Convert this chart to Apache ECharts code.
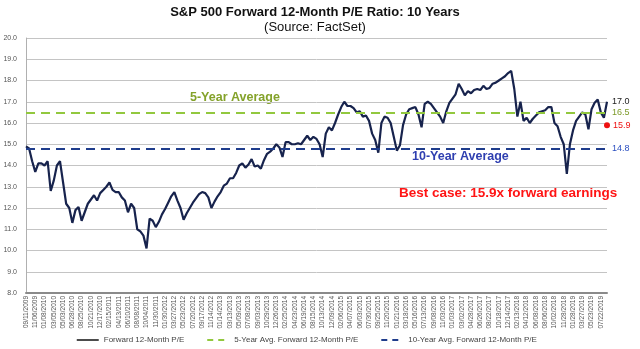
<!DOCTYPE html>
<html>
<head>
<meta charset="utf-8">
<script src="https://cdn.jsdelivr.net/npm/echarts@6/dist/echarts.min.js"></script>
<style>
html,body{margin:0;padding:0;background:#fff;}
#c{width:640px;height:349px;}
</style>
</head>
<body>
<div id="c"></div>
<script>
// Tick labels (every 40 trading days)
const tickLabels = ['09/11/2009','11/06/2009','01/08/2010','03/05/2010','05/03/2010','06/28/2010','08/25/2010','10/21/2010','12/17/2010','02/15/2011','04/13/2011','06/10/2011','08/08/2011','10/04/2011','11/30/2011','01/30/2012','03/27/2012','05/23/2012','07/20/2012','09/17/2012','11/14/2012','01/14/2013','03/13/2013','05/09/2013','07/08/2013','09/03/2013','10/29/2013','12/26/2013','02/25/2014','04/23/2014','06/19/2014','08/15/2014','10/13/2014','12/09/2014','02/06/2015','04/07/2015','06/03/2015','07/30/2015','09/25/2015','11/20/2015','01/21/2016','03/18/2016','05/16/2016','07/13/2016','09/08/2016','11/03/2016','01/03/2017','03/02/2017','04/28/2017','06/26/2017','08/22/2017','10/18/2017','12/14/2017','02/13/2018','04/12/2018','06/08/2018','08/06/2018','10/02/2018','11/28/2018','01/28/2019','03/27/2019','05/23/2019','07/22/2019'];

// Forward 12-month P/E (3 readings per tick interval)
const forwardPE = [
14.9,14.8,14.2,13.7,14.1,14.1,14.0,14.2,12.8,13.3,
14.0,14.2,13.2,12.2,12.0,11.3,11.9,12.05,11.4,11.8,
12.2,12.4,12.6,12.35,12.7,12.85,13.0,13.2,12.85,12.75,
12.75,12.5,12.35,11.8,12.2,12.0,11.0,10.9,10.7,10.1,
11.5,11.4,11.1,11.35,11.7,11.95,12.25,12.55,12.75,12.35,
12.0,11.45,11.75,12.0,12.25,12.45,12.65,12.75,12.7,12.5,
12.0,12.3,12.55,12.75,13.05,13.15,13.4,13.4,13.65,14.0,
14.1,13.9,14.05,14.3,13.95,14.0,13.85,14.25,14.55,14.65,
14.8,15.0,14.85,14.4,15.1,15.1,15.0,15.0,15.05,15.0,
15.2,15.4,15.2,15.35,15.25,15.0,14.4,15.5,15.8,15.65,
16.0,16.4,16.75,17.0,16.8,16.8,16.7,16.5,16.55,16.3,
16.35,16.1,15.5,15.2,14.6,16.0,16.3,16.25,16.0,15.35,
14.7,14.95,15.9,16.4,16.65,16.7,16.75,16.4,15.8,16.9,
17.0,16.9,16.7,16.5,16.3,16.0,16.55,16.95,17.15,17.35,
17.85,17.6,17.3,17.5,17.4,17.55,17.6,17.55,17.75,17.6,
17.65,17.85,17.9,18.0,18.1,18.2,18.35,18.45,17.6,16.3,
17.0,16.1,16.25,16.0,16.2,16.35,16.5,16.55,16.6,16.75,
16.75,16.0,15.85,15.35,15.0,13.6,15.0,15.65,16.1,16.3,
16.5,16.4,15.7,16.65,16.95,17.1,16.5,16.25,17.0
];

const fiveYearAvg = 16.5;
const tenYearAvg = 14.8;
const bestCase = 15.9;
const seriesNames = ['Forward 12-Month P/E','5-Year Avg. Forward 12-Month P/E','10-Year Avg. Forward 12-Month P/E'];

// category axis: each tick label followed by two unlabeled readings
const categories = [];
tickLabels.forEach(function(l){ categories.push(l, '', ''); });
while (categories.length > forwardPE.length) categories.pop();

const FONT = '"Liberation Sans", Arial, sans-serif';
const chart = echarts.init(document.getElementById('c'), null, {renderer:'canvas'});
chart.setOption({
  animation: false,
  backgroundColor: '#fff',
  textStyle: {fontFamily: FONT},
  title: {
    text: 'S&P 500 Forward 12-Month P/E Ratio: 10 Years',
    subtext: '(Source: FactSet)',
    left: 310, top: 1, textAlign: 'center', itemGap: 2,
    textStyle: {fontSize: 13, fontWeight: 'bold', color: '#111', fontFamily: FONT},
    subtextStyle: {fontSize: 13, color: '#111', fontFamily: FONT}
  },
  grid: {left: 26, right: 33, top: 38, bottom: 56, containLabel: false},
  legend: {
    left: 76, top: 336, padding: 0, itemGap: 22, itemWidth: 22, itemHeight: 10,
    itemStyle: {opacity: 0},
    data: [
      {name: seriesNames[0], lineStyle: {color: '#111', width: 1.5, type: 'solid'}},
      {name: seriesNames[1], lineStyle: {color: '#92c83e', width: 2, type: [6, 5]}},
      {name: seriesNames[2], lineStyle: {color: '#1f3d8c', width: 2, type: [6, 5]}}
    ],
    textStyle: {fontSize: 8, color: '#444', fontFamily: FONT}
  },
  xAxis: {
    type: 'category', boundaryGap: false, data: categories,
    axisLine: {lineStyle: {color: '#8a8a8a', width: 2}},
    axisTick: {show: false},
    axisLabel: {interval: 2, rotate: 90, fontSize: 6.5, color: '#555', margin: 3, fontFamily: FONT},
    splitLine: {show: false}
  },
  yAxis: {
    type: 'value', min: 8, max: 20, interval: 1,
    axisLine: {show: true, lineStyle: {color: '#b0b0b0', width: 1}},
    axisTick: {show: false},
    axisLabel: {fontSize: 7, color: '#555', margin: 9, formatter: function(v){return v.toFixed(1);}, fontFamily: FONT},
    splitLine: {lineStyle: {color: '#c4c4c4', width: 1}}
  },
  series: [
    {
      name: seriesNames[0], type: 'line', data: forwardPE, symbol: 'none', showSymbol: false, sampling: 'none',
      color: '#17234d',
      lineStyle: {color: '#17234d', width: 2.2},
      endLabel: {show: true, formatter: '17.0', color: '#222', fontSize: 9, distance: 5, fontFamily: FONT},
      markPoint: {
        silent: true,
        data: [{coord: [forwardPE.length - 1, bestCase], symbol: 'circle', symbolSize: 6,
          itemStyle: {color: '#ee1111'},
          label: {show: true, position: 'right', distance: 3, formatter: String(bestCase), color: '#ee1111', fontSize: 9, fontFamily: FONT}}]
      },
      z: 3
    },
    {
      name: seriesNames[1], type: 'line', data: [], symbol: 'none', showSymbol: false,
      color: '#92c83e',
      lineStyle: {color: '#92c83e', width: 2, type: [9, 6]},
      markLine: {
        silent: true, symbol: 'none',
        lineStyle: {color: '#92c83e', width: 2, type: [9, 6]},
        label: {show: true, position: 'end', formatter: String(fiveYearAvg), color: '#7d9a2a', fontSize: 9, distance: 5, fontFamily: FONT},
        data: [{yAxis: fiveYearAvg}]
      },
      z: 2
    },
    {
      name: seriesNames[2], type: 'line', data: [], symbol: 'none', showSymbol: false,
      color: '#1f3d8c',
      lineStyle: {color: '#1f3d8c', width: 2, type: [9, 6]},
      markLine: {
        silent: true, symbol: 'none',
        lineStyle: {color: '#1f3d8c', width: 2, type: [9, 6]},
        label: {show: true, position: 'end', formatter: String(tenYearAvg), color: '#2b4fc0', fontSize: 9, distance: 5, fontFamily: FONT},
        data: [{yAxis: tenYearAvg}]
      },
      z: 2
    }
  ],
  graphic: [
    {type: 'text', left: 190, top: 91, style: {text: '5-Year Average', font: 'bold 12.5px ' + FONT, fill: '#84a22a'}},
    {type: 'text', left: 412, top: 150, style: {text: '10-Year Average', font: 'bold 12.5px ' + FONT, fill: '#2f3fb0'}},
    {type: 'text', left: 399, top: 186, style: {text: 'Best case: 15.9x forward earnings', font: 'bold 13.5px ' + FONT, fill: '#ff1414'}}
  ]
});
</script>
</body>
</html>
